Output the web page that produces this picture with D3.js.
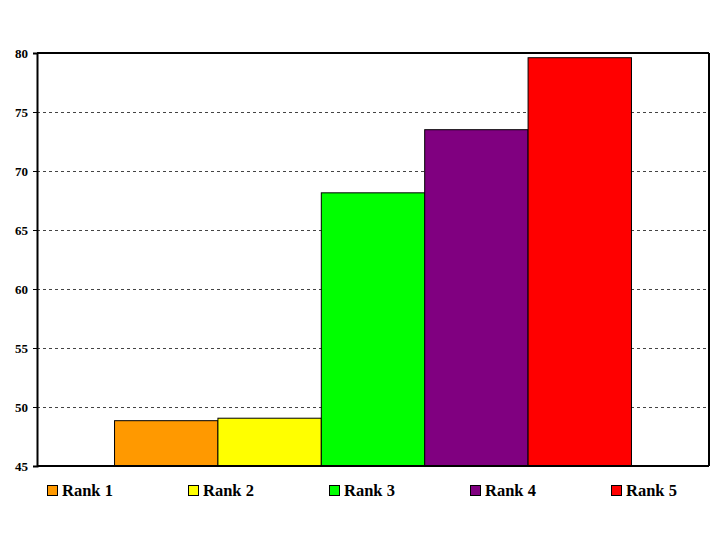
<!DOCTYPE html>
<html><head><meta charset="utf-8">
<script src="https://cdn.jsdelivr.net/npm/d3@7"></script>
<style>body{margin:0;background:#fff}svg{display:block}</style>
</head><body>
<svg id="c" width="720" height="540"></svg>
<script>
const categories = ["Rank 1","Rank 2","Rank 3","Rank 4","Rank 5"];
const values = [48.84, 49.05, 68.15, 73.5, 79.6];
const colors = ["#FF9900","#FFFF00","#00FF00","#800080","#FF0000"];
const yTicks = [45,50,55,60,65,70,75,80];

const svg = d3.select("#c");
const L=37, R=709, T=53, B=466;
const y = d3.scaleLinear().domain([45,80]).range([B,T]);
const bw = (R-L)/(5+1.5);
const x = d3.scaleBand().domain(categories).range([L+bw*0.75, R-bw*0.75]).padding(0);

// gridlines
svg.append("g").selectAll("line").data(yTicks.filter(d=>d>45 && d<80)).join("line")
  .attr("x1",L).attr("x2",R).attr("y1",d=>Math.round(y(d))+0.5).attr("y2",d=>Math.round(y(d))+0.5)
  .attr("stroke","#444").attr("stroke-width",1).attr("stroke-dasharray","3,3");

// bars
svg.append("g").selectAll("rect").data(categories).join("rect")
  .attr("x",d=>x(d)).attr("width",x.bandwidth())
  .attr("y",(d,i)=>y(values[i])).attr("height",(d,i)=>B-y(values[i]))
  .attr("fill",(d,i)=>colors[i]).attr("stroke","#000").attr("stroke-width",1);

// frame
svg.append("line").attr("x1",L).attr("x2",R).attr("y1",T).attr("y2",T).attr("stroke","#000").attr("stroke-width",2);
svg.append("line").attr("x1",R).attr("x2",R).attr("y1",T).attr("y2",B).attr("stroke","#000").attr("stroke-width",2);
svg.append("line").attr("x1",L).attr("x2",R).attr("y1",B).attr("y2",B).attr("stroke","#000").attr("stroke-width",2);

// y axis
const yAxis = d3.axisLeft(y).tickValues(yTicks).tickSize(4).tickPadding(5).tickFormat(d3.format("d"));
const ga = svg.append("g").attr("transform",`translate(${L},0)`).call(yAxis);
ga.select(".domain").attr("stroke","#000").attr("stroke-width",2);
ga.selectAll(".tick line").attr("stroke","#000");
ga.selectAll("text").attr("font-family","Liberation Serif, Times New Roman, serif")
  .attr("font-size",13).attr("font-weight","bold").attr("fill","#000");

// legend
const lg = svg.append("g").selectAll("g").data(categories).join("g")
  .attr("transform",(d,i)=>`translate(${47+i*141},485)`);
lg.append("rect").attr("x",0.5).attr("y",0.5).attr("width",10).attr("height",10)
  .attr("fill",(d,i)=>colors[i]).attr("stroke","#000").attr("stroke-width",1);
lg.append("text").attr("x",15).attr("y",11).text(d=>d)
  .attr("font-family","Liberation Serif, Times New Roman, serif").attr("font-size",16.5)
  .attr("font-weight","bold").attr("fill","#000");
</script>
</body></html>
